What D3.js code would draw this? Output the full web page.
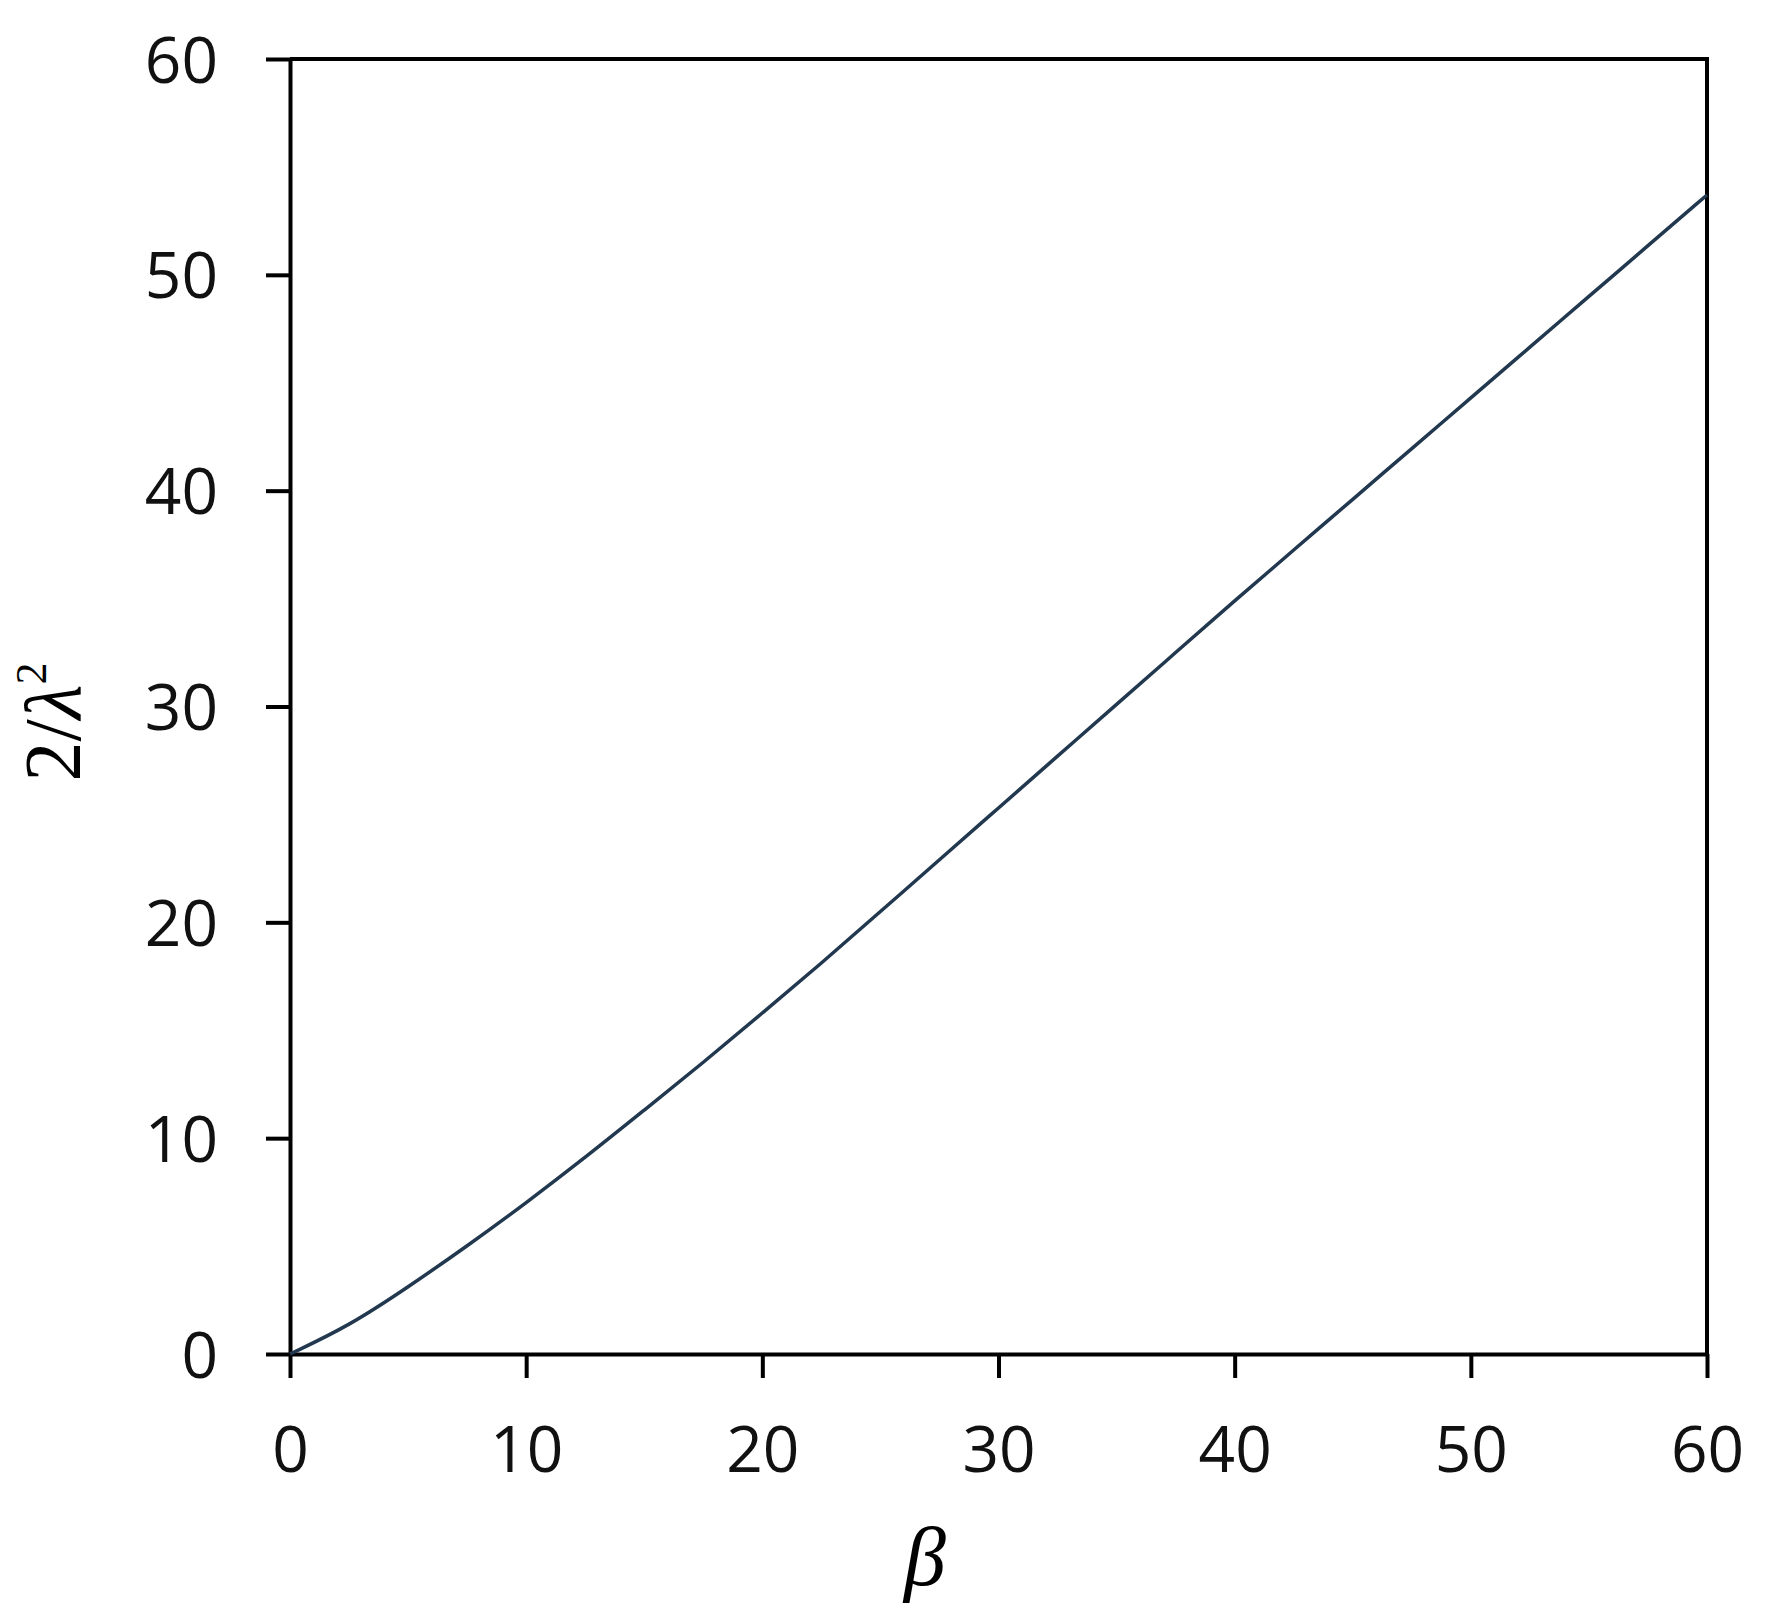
<!DOCTYPE html>
<html>
<head>
<meta charset="utf-8">
<script src="https://cdn.jsdelivr.net/npm/d3@7"></script>
<style>
  body { margin: 0; background: #fff; }
  .tick text { font-family: "Open Sans", sans-serif; }
</style>
</head>
<body>
<div class="chart"></div>
<script>
var width = 1777, height = 1616;

// values
var betaValues = [0, 2.5, 5, 7.5, 10, 12.5, 15, 17.5, 20, 22.5, 25, 27.5, 30, 32.5, 35,
    37.5, 40, 42.5, 45, 47.5, 50, 52.5, 55, 57.5, 60];
var lambdaValues = [0, 1.3, 3.1, 5.0, 7.0, 9.1, 11.3, 13.5, 15.8, 18.1, 20.5, 22.9, 25.3, 27.7, 30.1,
    32.5, 34.9, 37.25, 39.6, 41.95, 44.3, 46.65, 49.0, 51.35, 53.7];
var xTicks = [0, 10, 20, 30, 40, 50, 60];
var yTicks = [0, 10, 20, 30, 40, 50, 60];

var margin = { top: 59, right: 70, bottom: 262, left: 290 };

var svg = d3.select('.chart')
    .append('svg')
    .attr('width', width)
    .attr('height', height);

var x = d3.scaleLinear().domain([0, 60]).range([margin.left, width - margin.right]);
var y = d3.scaleLinear().domain([0, 60]).range([height - margin.bottom, margin.top]);

var data = betaValues.map((b, i) => ({ b: b, v: lambdaValues[i] }));

// frame: right and top edges
svg.append('path')
    .attr('d', `M${x(0)},${y(60)}H${x(60)}V${y(0)}`)
    .attr('fill', 'none')
    .attr('stroke', '#000')
    .attr('stroke-width', 4);

var xAxis = svg.append('g')
    .attr('transform', `translate(0,${y(0)})`)
    .call(d3.axisBottom(x).tickValues(xTicks).tickSize(24).tickSizeOuter(0).tickPadding(48));

var yAxis = svg.append('g')
    .attr('transform', `translate(${x(0)},0)`)
    .call(d3.axisLeft(y).tickValues(yTicks).tickSize(24).tickSizeOuter(0).tickPadding(48));

[xAxis, yAxis].forEach(function (ax) {
    ax.select('.domain').attr('stroke', '#000').attr('stroke-width', 4);
    ax.selectAll('.tick line').attr('stroke', '#000').attr('stroke-width', 4);
    ax.selectAll('.tick text').attr('font-size', 64).attr('fill', '#111');
});
xAxis.selectAll('.tick text').attr('dy', '0.72em');
yAxis.selectAll('.tick text').attr('dy', '0.36em');

var line = d3.line()
    .x(d => x(d.b))
    .y(d => y(d.v))
    .curve(d3.curveBasis);

svg.append('path')
    .datum(data)
    .attr('d', line)
    .attr('fill', 'none')
    .attr('stroke', '#22384f')
    .attr('stroke-width', 3.5);

// axis titles
svg.append('text')
    .attr('x', 925)
    .attr('y', 1585)
    .attr('text-anchor', 'middle')
    .attr('font-family', '"Liberation Serif", serif')
    .attr('font-style', 'italic')
    .attr('font-size', 84)
    .text('β');

var yt = svg.append('text')
    .attr('transform', 'translate(80,722) rotate(-90)')
    .attr('text-anchor', 'middle')
    .attr('font-family', '"Liberation Serif", serif')
    .attr('font-size', 80);
yt.append('tspan').text('2/');
yt.append('tspan').attr('font-style', 'italic').text('λ');
yt.append('tspan').attr('font-size', 44).attr('dy', -34).text('2');
</script>
</body>
</html>
